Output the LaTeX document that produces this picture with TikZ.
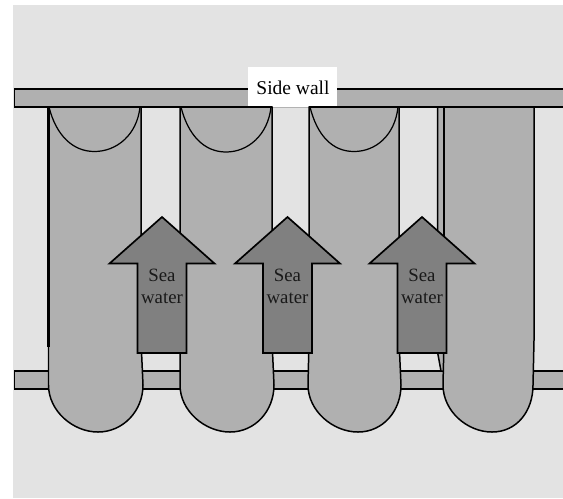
\documentclass[tikz,border=0pt]{standalone}
\usepackage{fontspec}
\setmainfont{Liberation Serif}
\usetikzlibrary{calc}
\definecolor{bggray}{HTML}{E3E3E3}
\definecolor{wallgray}{HTML}{B0B0B0}
\definecolor{arrowgray}{HTML}{808080}
\tikzset{
    wallbar/.style={draw=black,fill=wallgray,line width=0.85pt},
    tubebody/.style={draw=black,fill=wallgray,line width=0.85pt},
    seaarrow/.style={draw=black,fill=arrowgray,line width=0.95pt,line join=miter},
    walltext/.style={font=\fontsize{11.1pt}{13pt}\selectfont,inner sep=0pt},
    seatext/.style={font=\fontsize{10.7pt}{12.6pt}\selectfont,inner sep=0pt,align=center,text=black!90}
}
\begin{document}
\begin{tikzpicture}[x=0.02cm,y=-0.02cm]
        \useasboundingbox (0,0) rectangle (563,498);
        \fill[bggray] (13,5) rectangle (563,498);
        \draw[wallbar] (566,89) -- (14.5,89) -- (14.5,107) -- (566,107);
        \draw[wallbar] (566,371) -- (14.5,371) -- (14.5,389) -- (566,389);
        \node[fill=white,minimum width=89*0.02cm,minimum height=40.5*0.02cm,inner sep=0pt] (labelbox) at (292.5,87.2) {};
        \draw[black!30,line width=0.5pt] (labelbox.south west) -- (labelbox.south east);
        \node[walltext] (sidewall) at (293,88) {Side wall};
        \draw[tubebody] (437.7,107) -- (437.7,353) -- (441,371) -- (446,371) -- (446,107) -- cycle;
        \foreach \l/\r/\lb/\rb/\m in {48.5/141/48.5/143/98,180/272/180/274/230,309/399/308/401/358,444/534/443/533/492}
        \draw[tubebody] (\l,107) -- (\r,107) -- (\r,340) -- (\rb,385) .. controls (\rb,411) and (\m+25,432) .. (\m,432)
            .. controls (\m-25,432) and (\lb,411) .. (\lb,385) -- (\l,340) -- cycle;
        \draw[line width=1.3pt] (48.5,107) -- (48.5,347);
        \draw[line width=1.1pt] (444,107) -- (444,250);
        \foreach \l/\r/\b in {49/140/151.5,181/271/152,310/398/151.5}
        \draw[line width=0.7pt] (\l,107) .. controls (\l+7,135) and ({(\l+\r)/2-22},\b) .. ({(\l+\r)/2},\b)
            .. controls ({(\l+\r)/2+22},\b) and (\r-3,135) .. (\r,107);
        \draw[line width=1pt] (48.5,107) -- (141,107) (180,107) -- (272,107) (309,107) -- (399,107) (438,107) -- (534,107);
        \foreach \tip/\name in {162/one,287.5/two,422/three}
        {
        \draw[seaarrow] (\tip,217) -- (\tip+52.5,263.5) -- (\tip+24.5,263.5) -- (\tip+24.5,353)
            -- (\tip-24.5,353) -- (\tip-24.5,263.5) -- (\tip-52.5,263.5) -- cycle;
        \node[seatext] (sea\name) at (\tip,286) {Sea\\water};
        }
\end{tikzpicture}
\end{document}
